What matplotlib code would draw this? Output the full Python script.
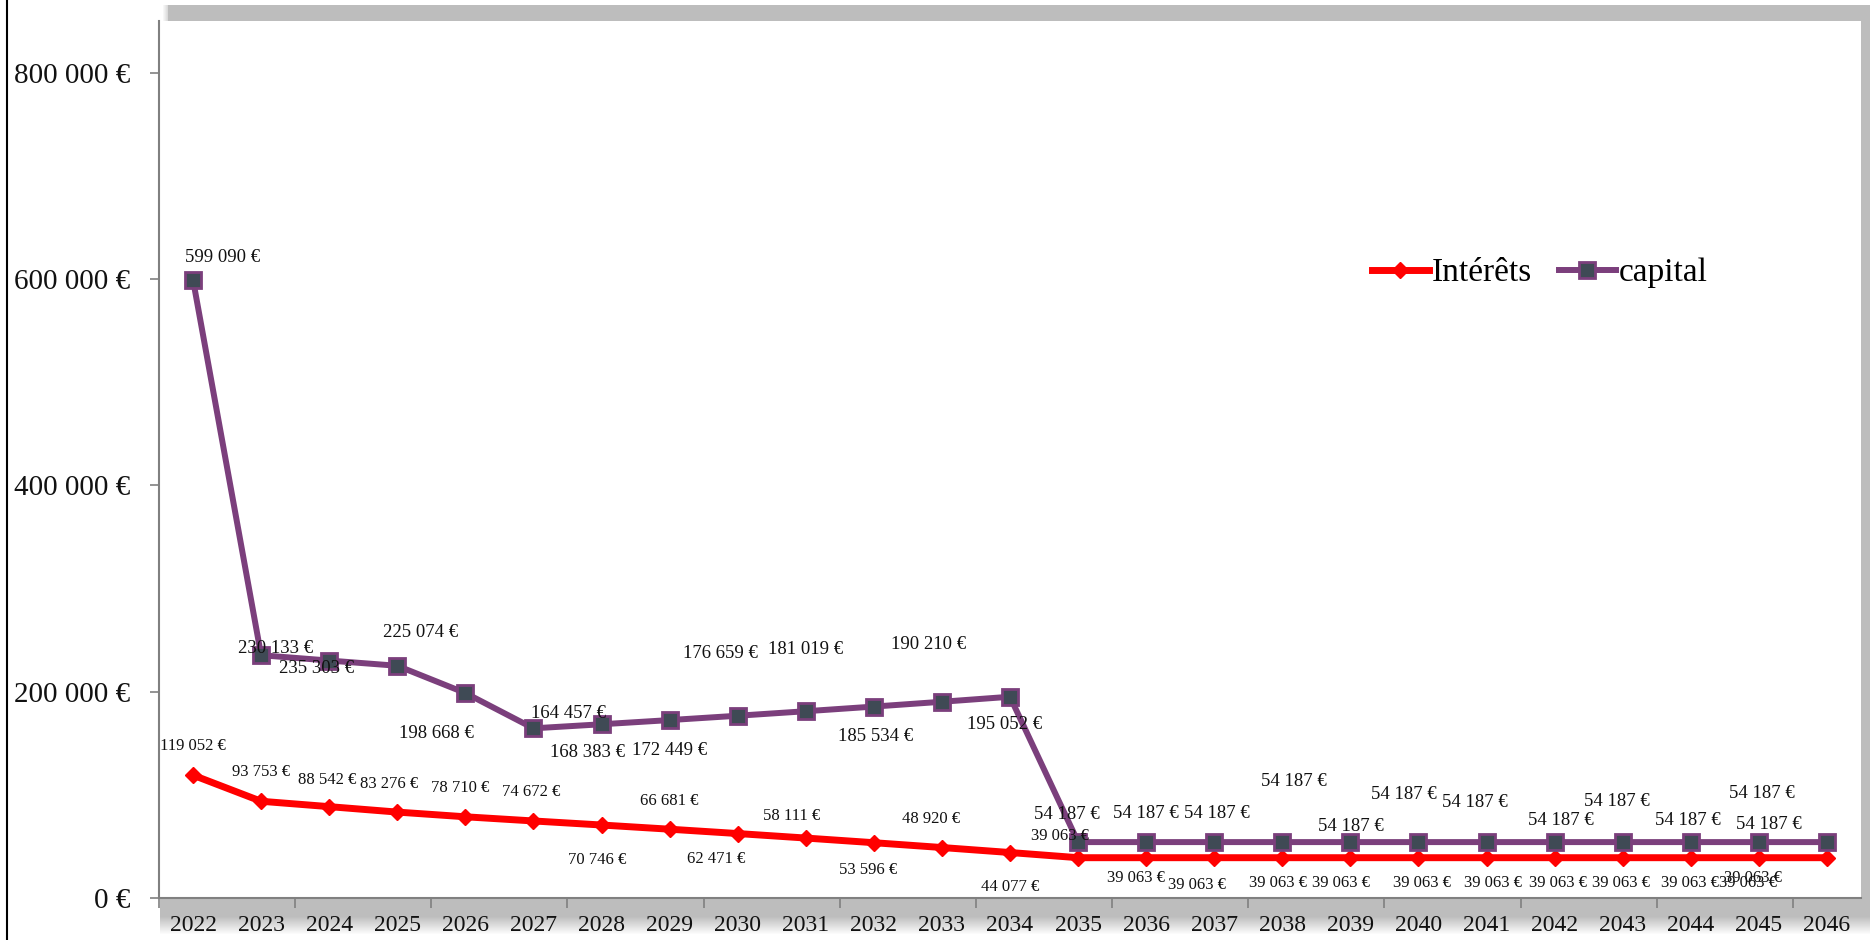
import numpy as np
import matplotlib
matplotlib.use("Agg")
import matplotlib.pyplot as plt
from matplotlib.patches import Rectangle
from matplotlib.ticker import FixedLocator, FuncFormatter, NullFormatter

plt.rcParams['font.family'] = ['Liberation Serif', 'DejaVu Serif']

# data
years = [str(y) for y in range(2022, 2047)]
interets = [119052, 93753, 88542, 83276, 78710, 74672, 70746, 66681, 62471,
            58111, 53596, 48920, 44077] + [39063] * 12
capital = [599090, 235303, 230133, 225074, 198668, 164457, 168383, 172449,
           176659, 181019, 185534, 190210, 195052] + [54187] * 12

# label offsets in pixels (dx, dy), as placed by hand in the original
cap_off = [(30, 22), (55, -13), (-54, 12), (23, 33), (-29, -40), (35, 15),
           (-14, -28), (0, -30), (-17, 62), (0, 62), (2, -30), (-13, 57),
           (-5, -28), (-11, 28), (0, 29), (3, 29), (12, 61), (0, 16),
           (-15, 48), (-12, 40), (6, 22), (-6, 41), (-3, 22), (3, 49),
           (-58, 18)]
int_off = [(0, 29), (0, 29), (-2, 27), (-8, 28), (-5, 29), (-2, 29),
           (-4, -35), (0, 28), (-21, -25), (-14, 22), (-6, -27), (-11, 29),
           (0, -34), (-18, 22), (-10, -20), (-17, -27), (-4, -25), (-9, -25),
           (4, -25), (6, -25), (3, -25), (-2, -25), (-1, -25), (-11, -25),
           (-74, -20)]


def euro(v):
    return f"{v:,.0f} €".replace(",", " ")


W, H = 1870, 940
fig = plt.figure(figsize=(W / 100, H / 100), dpi=100)

# background: frame line and plot-area shadow
bg = fig.add_axes([0, 0, 1, 1], zorder=-5)
bg.set_xlim(0, W)
bg.set_ylim(H, 0)
bg.axis('off')
bg.plot([7, 7], [0, H], color='black', lw=1.5)
bg.add_patch(Rectangle((168, 5), W - 168, 895, color='#bdbdbd', lw=0))
for k in range(8):
    bg.add_patch(Rectangle((163 + k, 5), 1, 895, color='#bdbdbd', lw=0,
                           alpha=(k + 1) / 9))
for k in range(36):
    a = 1.0 if k < 18 else max(0, 1 - (k - 18) / 18)
    bg.add_patch(Rectangle((160, 898 + k), W - 160, 1, color='#bdbdbd',
                           lw=0, alpha=a))

ax = fig.add_axes([159 / W, 1 - 898 / H, (1861 - 159) / W, (898 - 21) / H])
ax.set_facecolor('white')
x = np.arange(len(years))

ax.plot(x, interets, color='#ff0000', lw=5, marker='D', ms=8,
        mfc='#ff0000', mec='#ff0000', label='Intérêts', zorder=3)
ax.plot(x, capital, color='#7b3f7c', lw=4.3, marker='s', ms=11.5,
        mfc='#3f4a55', mec='#7b3f7c', mew=2, label='capital', zorder=4)

for i, v in enumerate(capital):
    ax.annotate(euro(v), (x[i], v), xytext=cap_off[i], textcoords='offset pixels',
                ha='center', va='center', fontsize=13.5, color='#111111', zorder=6)
for i, v in enumerate(interets):
    ax.annotate(euro(v), (x[i], v), xytext=int_off[i], textcoords='offset pixels',
                ha='center', va='center', fontsize=12, color='#111111', zorder=6)

ax.set_xlim(-0.5, len(years) - 0.5)
ax.set_ylim(0, 850000)

ax.yaxis.set_major_locator(FixedLocator([0, 200000, 400000, 600000, 800000]))
ax.yaxis.set_major_formatter(FuncFormatter(lambda v, p: euro(v)))
ax.tick_params(axis='y', length=6.5, width=1.2, color='#808080', pad=14,
               labelsize=21, labelcolor='#111111')

ax.xaxis.set_major_locator(FixedLocator(np.arange(-0.5, len(years) - 0.5, 2)))
ax.xaxis.set_major_formatter(NullFormatter())
ax.xaxis.set_minor_locator(FixedLocator(x))
ax.xaxis.set_minor_formatter(FuncFormatter(lambda v, p: years[int(round(v))]))
ax.tick_params(axis='x', which='major', length=7, width=1.2, color='#808080')
ax.tick_params(axis='x', which='minor', length=0, pad=12, labelsize=17,
               labelcolor='#111111')

for s in ('top', 'right'):
    ax.spines[s].set_visible(False)
for s in ('left', 'bottom'):
    ax.spines[s].set_color('#808080')
    ax.spines[s].set_linewidth(1.5)

fig.legend(loc='center left', bbox_to_anchor=(1372 / W, 1 - 273 / H),
           bbox_transform=fig.transFigure, ncol=2, frameon=False, fontsize=24,
           handlelength=1.7, handletextpad=0.1, columnspacing=0.8,
           borderpad=0, borderaxespad=0)

fig.savefig('out.png', dpi=100)
